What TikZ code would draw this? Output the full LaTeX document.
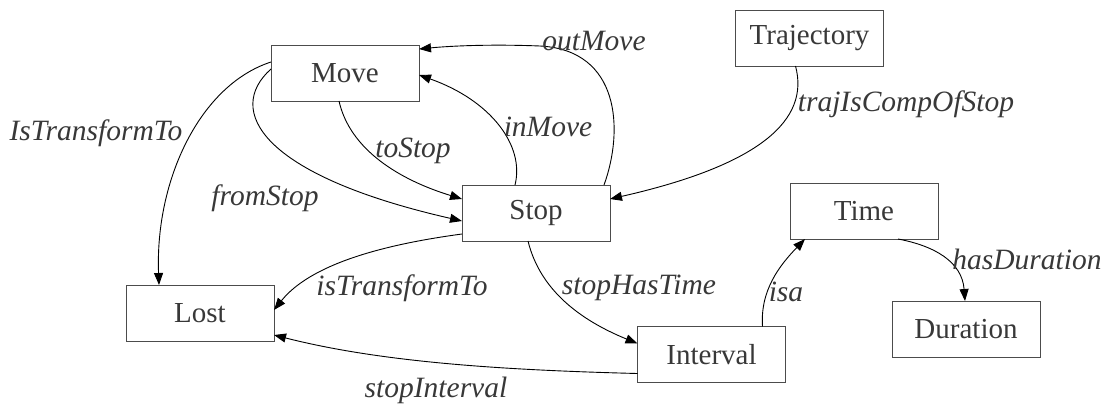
\documentclass[tikz,border=0pt]{standalone}
\usepackage{fontspec}
\setmainfont{Liberation Serif}
\usetikzlibrary{arrows.meta,calc}
\begin{document}
\begin{tikzpicture}[x=1pt,y=-1pt,
  box/.style={draw=black!70,line width=1pt,minimum width=148pt,minimum height=56pt,inner sep=0pt,outer sep=0pt,text=black!78,font=\fontsize{29}{34}\selectfont},
  lbl/.style={inner sep=0pt,text=black!78,font=\fontsize{29.5}{34}\selectfont\itshape},
  edge/.style={line width=0.9pt,-{Triangle[length=12pt,width=9pt]}}]
\useasboundingbox (0,0) rectangle (1105,405);
\node[box] (move) at (345,73) {Move};
\node[box] (stop) at (536,213) {Stop};
\node[box] (traj) at (809.5,38) {Trajectory};
\node[box] (lost) at (200,313) {Lost};
\node[box] (interval) at (711.5,354.5) {Interval};
\node[box] (time) at (864,211) {Time};
\node[box] (duration) at (966,329) {Duration};
% edges
\draw[edge] ($(stop.north west)+(142,0)$) .. controls (624,130) and (620,50) .. (540,46) .. controls (490,44) and (450,46) .. ($(move.north east)+(0,4)$);
\draw[edge] ($(stop.north west)+(53,0)$) .. controls (525,145) and (490,100) .. ($(move.east)+(0,2)$);
\draw[edge] ($(move.south west)+(68,0)$) .. controls (350,150) and (400,180) .. ($(stop.west)+(0,-14)$);
\draw[edge] ($(move.west)+(0,-4)$) .. controls (225,110) and (260,175) .. ($(stop.west)+(0,8)$);
\draw[edge] ($(move.west)+(0,-11)$) .. controls (200,85) and (155,180) .. ($(lost.north west)+(33,0)$);
\draw[edge] ($(stop.south west)+(0,-7)$) .. controls (380,245) and (310,265) .. ($(lost.east)+(0,-3)$);
\draw[edge] ($(stop.south west)+(66,0)$) .. controls (540,290) and (580,320) .. ($(interval.west)+(0,-11)$);
\draw[edge] ($(interval.west)+(0,19)$) .. controls (500,370) and (380,362) .. ($(lost.south east)+(0,-6)$);
\draw[edge] ($(interval.north west)+(125,0)$) .. controls (760,290) and (780,265) .. ($(time.south west)+(15,0)$);
\draw[edge] ($(time.south west)+(108,0)$) .. controls (935,246) and (962,262) .. ($(duration.north west)+(73,0)$);
\draw[edge] ($(traj.south west)+(60,0)$) .. controls (810,120) and (760,165) .. ($(stop.east)+(0,-14)$);
% labels
\node[lbl] (l1) at (594,41) {outMove};
\node[lbl] (l2) at (548,127) {inMove};
\node[lbl] (l3) at (413,151) {toStop};
\node[lbl] (l4) at (265,198) {fromStop};
\node[lbl] (l5) at (96,133) {IsTransformTo};
\node[lbl] (l6) at (402,288) {isTransformTo};
\node[lbl] (l7) at (639,288) {stopHasTime};
\node[lbl] (l8) at (436,390) {stopInterval};
\node[lbl] (l9) at (786,292) {isa};
\node[lbl] (l10) at (1027,259) {hasDuration};
\node[lbl] (l11) at (906,104) {trajIsCompOfStop};
\end{tikzpicture}
\end{document}
